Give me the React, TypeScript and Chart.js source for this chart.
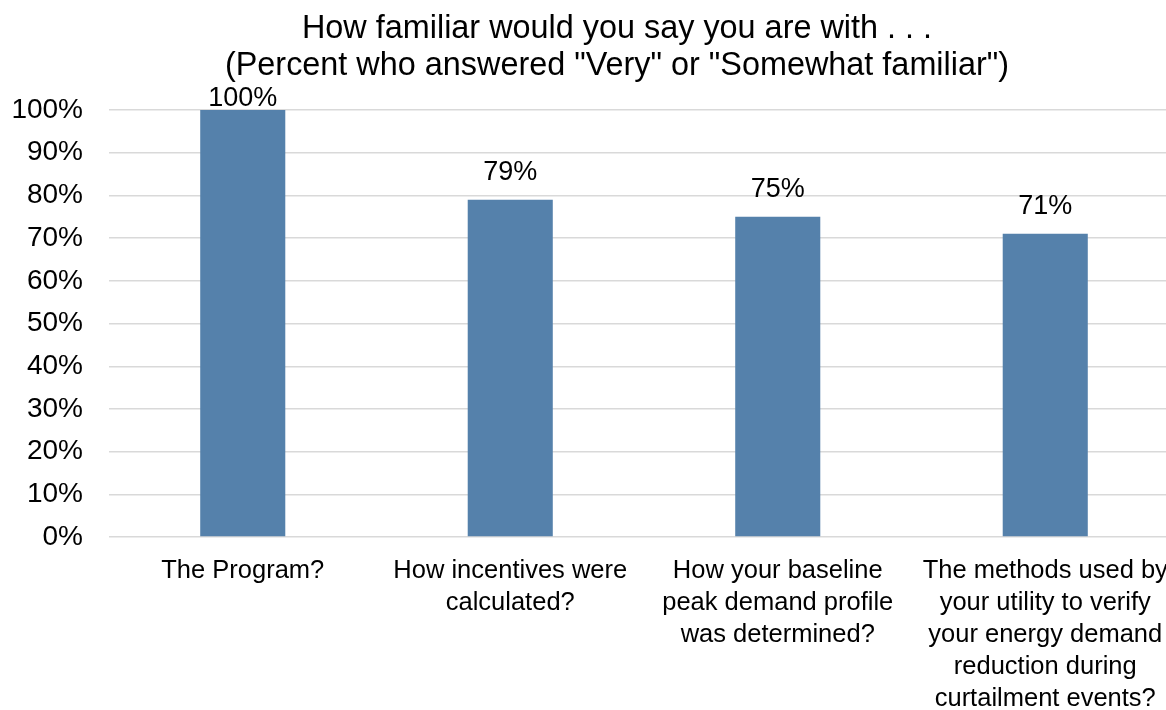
import { useEffect, useRef } from "react";
import { Chart, registerables } from "chart.js";

Chart.register(...registerables);

// Chart content
const titleLines = [
  "How familiar would you say you are with . . .",
  '(Percent who answered "Very" or "Somewhat familiar")',
];
const categories = [
  ["The Program?"],
  ["How incentives were", "calculated?"],
  ["How your baseline", "peak demand profile", "was determined?"],
  [
    "The methods used by",
    "your utility to verify",
    "your energy demand",
    "reduction during",
    "curtailment events?",
  ],
];
const familiarPercent = [100, 79, 75, 71];
const yMin = 0;
const yMax = 100;
const yStep = 10;

const FONT = "'Liberation Sans', Arial, sans-serif";
const BAR_COLOR = "#5581ab";
const GRID_COLOR = "#d9d9d9";

// Value labels drawn above each bar, kept inside the space under the title
const valueLabels = {
  id: "valueLabels",
  afterDatasetsDraw(chart: any) {
    const { ctx, chartArea } = chart;
    const meta = chart.getDatasetMeta(0);
    ctx.save();
    ctx.font = `27px ${FONT}`;
    ctx.fillStyle = "#000";
    ctx.textAlign = "center";
    ctx.textBaseline = "alphabetic";
    meta.data.forEach((bar: any, i: number) => {
      const y = Math.max(bar.y - 19.5, chartArea.top - 4);
      ctx.fillText(`${familiarPercent[i]}%`, bar.x, y);
    });
    ctx.restore();
  },
};

export default function App() {
  const canvasRef = useRef<HTMLCanvasElement | null>(null);

  useEffect(() => {
    if (!canvasRef.current) return;
    const chart = new Chart(canvasRef.current, {
      type: "bar",
      data: {
        labels: categories,
        datasets: [
          {
            data: familiarPercent,
            backgroundColor: BAR_COLOR,
            borderWidth: 0,
            categoryPercentage: 1,
            barPercentage: 0.318,
          },
        ],
      },
      options: {
        responsive: false,
        animation: false,
        layout: { padding: 0 },
        plugins: {
          legend: { display: false },
          tooltip: { enabled: false },
          title: {
            display: true,
            text: titleLines,
            color: "#000",
            font: { family: FONT, size: 32.4, weight: "normal", lineHeight: 1.142 },
            padding: { top: 11, bottom: 25 },
          },
        },
        scales: {
          x: {
            grid: { display: false, drawTicks: false },
            border: { display: false },
            ticks: {
              color: "#000",
              font: { family: FONT, size: 25.5, lineHeight: 1.255 },
              padding: 18,
              autoSkip: false,
              maxRotation: 0,
              minRotation: 0,
            },
            afterFit(scale: any) {
              scale.height = 173;
            },
          },
          y: {
            min: yMin,
            max: yMax,
            grid: { color: GRID_COLOR, lineWidth: 1.4, drawTicks: false },
            border: { display: false },
            ticks: {
              stepSize: yStep,
              color: "#000",
              font: { family: FONT, size: 28 },
              padding: 26,
              callback: (v: any) => `${v}%`,
            },
            afterFit(scale: any) {
              scale.width = 109;
            },
          },
          // empty margin on the right of the plot
          yRight: {
            type: "linear",
            position: "right",
            grid: { display: false, drawTicks: false },
            border: { display: false },
            ticks: { display: false },
            afterFit(scale: any) {
              scale.width = 55;
            },
          },
        },
      },
      plugins: [valueLabels],
    });
    return () => chart.destroy();
  }, []);

  return (
    <div
      style={{
        position: "fixed",
        left: 0,
        top: 0,
        width: 1166,
        height: 710,
        overflow: "hidden",
        background: "#fff",
      }}
    >
      <canvas ref={canvasRef} width={1234} height={710} style={{ display: "block" }} />
    </div>
  );
}
